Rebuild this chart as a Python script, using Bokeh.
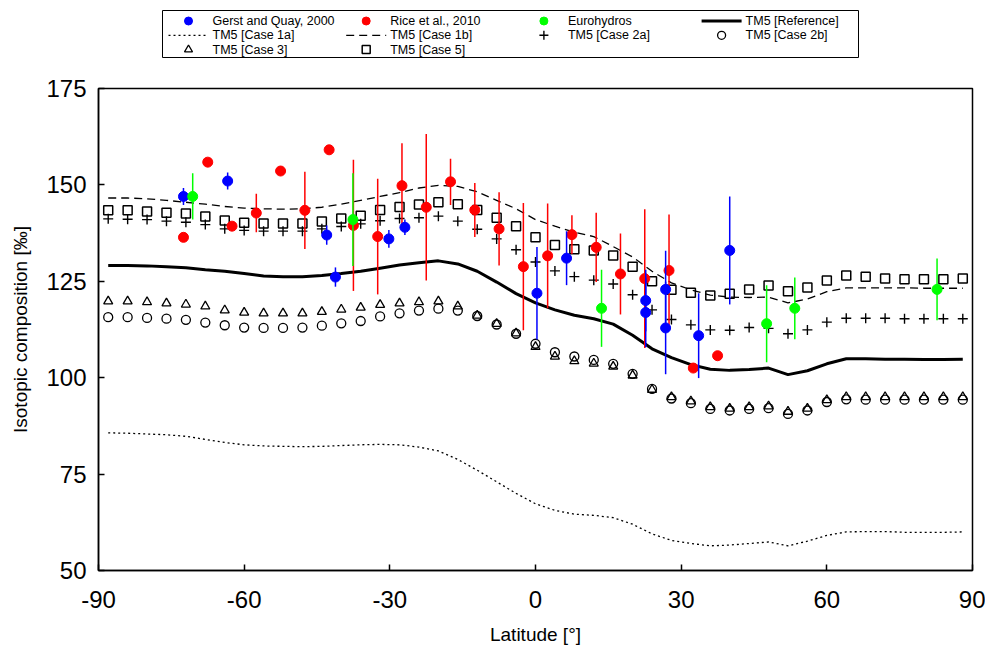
from bokeh.plotting import figure
from bokeh.layouts import column
from bokeh.models import Range1d, FixedTicker, PrintfTickFormatter
from bokeh.core.properties import value
from bokeh.embed import file_html
from bokeh.resources import INLINE

# ---------------- data ----------------
lat = [-88, -84, -80, -76, -72, -68, -64, -60, -56, -52, -48, -44, -40, -36, -32,
       -28, -24, -20, -16, -12, -8, -4, 0, 4, 8, 12, 16, 20, 24, 28, 32, 36, 40,
       44, 48, 52, 56, 60, 64, 68, 72, 76, 80, 84, 88]

tm5_reference = [129.1, 129.1, 129.0, 128.8, 128.5, 128.0, 127.6, 127.0, 126.4, 126.2,
                 126.2, 126.5, 127.0, 127.6, 128.4, 129.2, 129.8, 130.3, 129.5, 127.6,
                 124.8, 121.8, 119.4, 117.6, 116.2, 115.3, 113.9, 111.0, 107.5, 105.2,
                 103.4, 102.2, 101.9, 102.1, 102.5, 100.8, 101.8, 103.6, 104.9, 104.9,
                 104.8, 104.8, 104.7, 104.7, 104.8]

tm5_case1a = [85.7, 85.6, 85.4, 85.2, 84.8, 84.0, 83.2, 82.6, 82.3, 82.2,
              82.1, 82.2, 82.4, 82.6, 82.7, 82.6, 82.0, 81.0, 78.8, 76.0,
              73.0, 70.0, 67.3, 65.6, 64.6, 64.3, 63.7, 62.0, 59.5, 57.8,
              57.0, 56.4, 56.6, 57.0, 57.4, 56.4, 57.6, 59.1, 60.0, 60.1,
              60.1, 59.9, 59.9, 59.9, 60.0]

tm5_case1b = [146.6, 146.6, 146.4, 146.0, 145.5, 145.0, 144.4, 144.0, 143.8, 143.7,
              143.8, 144.2, 145.0, 146.0, 147.0, 148.0, 149.2, 149.9, 149.6, 148.2,
              146.0, 143.8, 141.0, 139.3, 137.7, 136.6, 134.0, 131.3, 127.6, 124.6,
              122.8, 121.4, 120.9, 120.8, 120.9, 119.4, 120.4, 122.3, 123.3, 123.3,
              123.3, 123.3, 123.2, 123.2, 123.2]

tm5_case2a = [141.2, 141.1, 141.0, 140.6, 140.3, 139.7, 138.6, 138.2, 138.0, 138.0,
              138.0, 138.6, 139.2, 139.9, 140.7, 141.3, 141.5, 141.9, 140.6, 138.5,
              136.0, 133.2, 130.0, 127.7, 126.2, 125.3, 124.3, 121.5, 117.6, 115.1,
              113.7, 112.4, 112.3, 113.0, 112.8, 111.4, 112.4, 114.4, 115.4, 115.4,
              115.4, 115.3, 115.3, 115.3, 115.3]

tm5_case2b = [115.7, 115.7, 115.5, 115.3, 115.0, 114.3, 113.6, 113.0, 112.9, 112.9,
              113.0, 113.5, 114.1, 114.7, 115.9, 116.7, 117.4, 117.9, 117.4, 116.0,
              113.8, 111.4, 108.8, 106.6, 105.5, 104.6, 103.6, 101.0, 97.1, 94.6,
              93.4, 91.9, 91.5, 91.9, 92.1, 90.6, 91.5, 93.7, 94.4, 94.3,
              94.3, 94.3, 94.3, 94.3, 94.3]

tm5_case3 = [119.8, 119.8, 119.6, 119.3, 119.0, 118.5, 117.5, 116.9, 116.7, 116.7,
             116.7, 117.1, 117.7, 118.2, 118.9, 119.3, 119.6, 119.8, 118.5, 116.1,
             114.0, 111.5, 108.0, 105.5, 104.3, 103.7, 102.9, 100.6, 96.9, 95.0,
             93.9, 92.4, 92.0, 92.4, 92.6, 91.2, 92.0, 94.2, 95.0, 95.0,
             95.0, 95.0, 95.0, 95.0, 95.0]

tm5_case5 = [143.4, 143.4, 143.1, 142.8, 142.6, 141.8, 140.8, 140.2, 140.0, 140.0,
             140.0, 140.5, 141.3, 142.0, 143.5, 144.3, 144.9, 145.5, 145.0, 143.5,
             141.5, 139.3, 136.4, 134.4, 133.3, 133.0, 131.7, 128.8, 125.0, 122.8,
             122.0, 121.3, 121.8, 122.9, 123.9, 122.4, 123.4, 125.2, 126.5, 126.2,
             125.7, 125.5, 125.5, 125.5, 125.7]

gerst_lat = [-72.5, -63.4, -43.0, -41.2, -30.2, -26.9, 0.3, 6.4, 22.7, 22.7, 26.8, 26.8, 33.6, 40.0]
gerst_val = [147.0, 151.0, 137.0, 126.1, 136.0, 139.0, 121.9, 131.0, 120.0, 116.9, 122.9, 112.9, 110.9, 133.0]
gerst_err = [2.2, 2.2, 2.5, 2.5, 2.3, 2.0, 12.0, 7.0, 8.0, 9.0, 10.0, 12.0, 11.0, 14.0]

rice_lat = [-72.5, -67.5, -62.5, -57.5, -52.5, -47.5, -42.5, -37.5, -32.5, -27.5, -22.5, -17.5,
            -12.5, -7.5, -2.5, 2.5, 7.5, 12.5, 17.5, 22.5, 27.5, 32.5, 37.5]
rice_val = [136.4, 155.9, 139.3, 142.7, 153.6, 143.4, 159.1, 139.5, 136.6, 149.8, 144.2, 150.8,
            143.5, 138.6, 128.8, 131.6, 137.1, 133.8, 126.9, 125.7, 127.8, 102.5, 105.7]
rice_err = [0, 0, 0, 5.0, 0, 10.0, 0, 17.0, 15.0, 11.0, 19.0, 6.0,
            7.0, 9.5, 16.5, 13.6, 5.0, 9.0, 10.5, 18.0, 14.5, 0, 0]

euro_lat = [-70.6, -37.6, 13.6, 47.6, 53.4, 82.7]
euro_val = [147.0, 141.0, 118.0, 114.0, 118.0, 122.9]
euro_err = [6.0, 12.0, 10.0, 10.0, 8.0, 8.0]

x_ticks = [-90, -60, -30, 0, 30, 60, 90]
y_ticks = [50, 75, 100, 125, 150, 175]

legend_labels = ["Gerst and Quay, 2000", "Rice et al., 2010", "Eurohydros", "TM5 [Reference]",
                 "TM5 [Case 1a]", "TM5 [Case 1b]", "TM5 [Case 2a]", "TM5 [Case 2b]",
                 "TM5 [Case 3]", "TM5 [Case 5]"]

FONT = "Liberation Sans"
LEG_H = 60
BORDER_L, BORDER_R = 98, 13

# ---------------- styles ----------------
C_GERST, C_RICE, C_EURO = "#0000FF", "#FF0000", "#00FF00"
S_1a = dict(line_color="black", line_width=1.3, line_dash="2 3")
S_1b = dict(line_color="black", line_width=1.3, line_dash="8 5")
S_ref = dict(line_color="black", line_width=3)
S_2a = dict(marker="cross", size=10, line_color="black", line_width=1.4)
S_2b = dict(marker="circle", size=9, fill_color=None, line_color="black", line_width=1.3)
S_3 = dict(marker="triangle", size=9, fill_color=None, line_color="black", line_width=1.3)
S_5 = dict(marker="square", size=9, fill_color=None, line_color="black", line_width=1.5)

# ---------------- main figure ----------------
p = figure(width=985, height=650 - LEG_H, output_backend="svg", toolbar_location=None,
           x_range=Range1d(-90, 90), y_range=Range1d(50, 175),
           min_border_left=BORDER_L, min_border_right=BORDER_R, min_border_top=88 - LEG_H,
           min_border_bottom=80)

p.grid.visible = False
p.outline_line_color = "black"
p.outline_line_width = 1.5
p.background_fill_color = "white"
p.border_fill_color = "white"

for ax, ticks in ((p.xaxis, x_ticks), (p.yaxis, y_ticks)):
    ax.ticker = FixedTicker(ticks=ticks)
    ax.formatter = PrintfTickFormatter(format="%d")
    ax.major_label_text_font = FONT
    ax.major_label_text_font_size = "24px"
    ax.major_label_text_color = "black"
    ax.axis_label_text_font = FONT
    ax.axis_label_text_font_size = "19px"
    ax.axis_label_text_font_style = "normal"
    ax.axis_label_text_color = "black"
    ax.axis_line_width = 1.5
    ax.major_tick_in = 6
    ax.major_tick_out = 0
    ax.major_tick_line_width = 1.5
    ax.minor_tick_line_color = None

p.xaxis.axis_label = "Latitude [°]"
p.yaxis.axis_label = "Isotopic composition [‰]"
p.xaxis.major_label_standoff = 20
p.yaxis.major_label_standoff = 12
p.xaxis.axis_label_standoff = 13
p.yaxis.axis_label_standoff = 12

p.line(lat, tm5_case1a, **S_1a)
p.line(lat, tm5_case1b, **S_1b)
p.line(lat, tm5_reference, **S_ref)
p.scatter(lat, tm5_case2a, **S_2a)
p.scatter(lat, tm5_case2b, **S_2b)
p.scatter(lat, tm5_case3, **S_3)
p.scatter(lat, tm5_case5, **S_5)


def obs(xs, vals, errs, color):
    lo = [v - e for v, e in zip(vals, errs)]
    hi = [v + e for v, e in zip(vals, errs)]
    p.segment(x0=xs, y0=lo, x1=xs, y1=hi, line_color=color, line_width=1.5)
    p.scatter(xs, vals, marker="circle", size=10, fill_color=color, line_color=color)


obs(rice_lat, rice_val, rice_err, C_RICE)
obs(gerst_lat, gerst_val, gerst_err, C_GERST)
obs(euro_lat, euro_val, euro_err, C_EURO)

# ---------------- legend strip (pixel coordinates) ----------------
lg = figure(width=985, height=LEG_H, output_backend="svg", toolbar_location=None,
            x_axis_type=None, y_axis_type=None,
            x_range=Range1d(BORDER_L, 985 - BORDER_R), y_range=Range1d(LEG_H, 0),
            min_border_left=BORDER_L, min_border_right=BORDER_R,
            min_border_top=0, min_border_bottom=0)
lg.grid.visible = False
lg.outline_line_color = None
lg.background_fill_color = "white"
lg.border_fill_color = "white"

lg.quad(left=[162], right=[858], top=[10], bottom=[57],
        fill_color="white", line_color="black", line_width=1)

kinds = [("dot", C_GERST), ("dot", C_RICE), ("dot", C_EURO), ("line", S_ref),
         ("line", S_1a), ("line", S_1b), ("mark", S_2a), ("mark", S_2b),
         ("mark", S_3), ("mark", S_5)]
COL0, COL_W, ROW0, ROW_H = 188, 177.7, 20.5, 14.3
for k, (label, (kind, sty)) in enumerate(zip(legend_labels, kinds)):
    c = COL0 + COL_W * (k % 4)
    y = ROW0 + ROW_H * (k // 4)
    if kind == "dot":
        lg.scatter([c], [y], marker="circle", size=8, fill_color=sty, line_color=sty)
    elif kind == "line":
        lg.line([c - 20, c + 20], [y, y], **sty)
    else:
        s = dict(sty)
        s["size"] = s["size"] - 1
        lg.scatter([c], [y], **s)
    lg.text(x=[c + 24], y=[y], text=[label], text_baseline="middle", text_align="left",
            text_font=value(FONT), text_font_size="12.5px", text_color="black")

page = column(lg, p, spacing=0)
open("out.html", "w").write(file_html(page, INLINE))
